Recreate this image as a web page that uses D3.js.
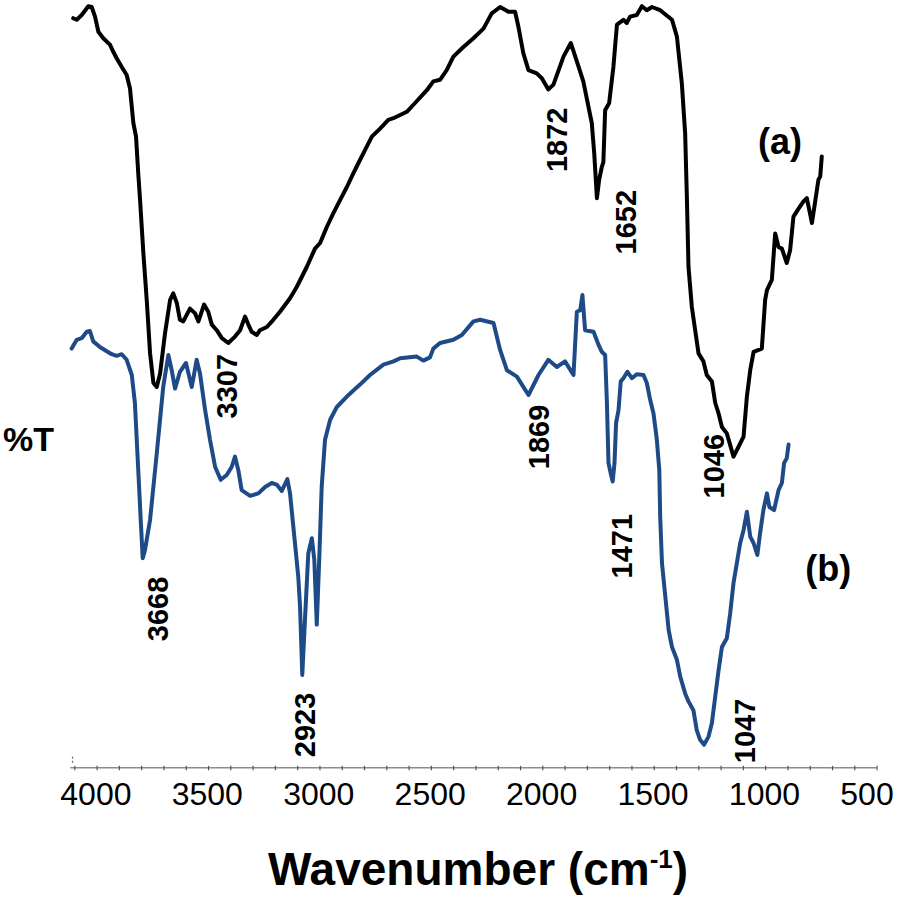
<!DOCTYPE html>
<html>
<head>
<meta charset="utf-8">
<script src="https://cdn.jsdelivr.net/npm/d3@7"></script>
<style>
  html, body { margin: 0; padding: 0; background: #fff; }
  svg { display: block; font-family: "Liberation Sans", Arial, sans-serif; }
</style>
</head>
<body>
<div class="container"></div>
<script>
// wavenumber (cm-1) and %T (arbitrary, offset)
var wavenumberA = [4005,3989,3967,3937,3922,3907,3892,3870,3840,3825,3810,3787,3765,3750,3735,3723,3713,3705,3690,3675,
  3660,3645,3630,3615,3593,3570,3556,3540,3526,3511,3481,3458,3443,3418,3399,3383,3361,3338,3309,3279,
  3256,3234,3219,3204,3181,3167,3136,3107,3077,3032,3002,2957,2920,2897,2867,2838,2807,2777,2748,2725,
  2703,2665,2628,2591,2568,2538,2508,2471,2418,2389,2359,2329,2299,2254,2209,2164,2127,2089,2052,2022,
  2007,1985,1962,1925,1902,1873,1850,1805,1772,1745,1716,1678,1667,1655,1645,1633,1626,1618,1600,1581,
  1565,1536,1521,1506,1476,1453,1431,1408,1371,1318,1296,1274,1259,1251,1244,1229,1214,1199,1177,1162,
  1139,1124,1109,1094,1072,1042,1020,997,982,967,952,915,900,892,870,855,840,825,803,788,
  773,750,728,713,690,668,661,653,646];
var transA = [93.6,93.4,94.0,95.1,95.0,93.8,91.9,91.1,90.3,89.4,88.6,87.5,86.5,84.8,80.5,78.8,74.2,70.9,64.2,58.4,
  51.7,48.0,47.5,49.2,54.2,58.4,59.2,58.0,55.9,55.7,57.3,56.7,55.7,57.8,56.9,55.3,54.6,53.6,53.0,53.8,
  54.6,56.3,55.3,54.4,54.0,54.6,55.0,55.9,56.9,58.6,60.0,62.5,64.8,65.5,67.5,69.2,70.9,72.5,74.2,75.5,
  76.7,78.8,79.8,80.9,81.1,81.5,81.9,83.0,84.6,85.7,85.9,87.1,88.8,90.0,91.1,92.3,94.2,95.0,94.4,94.4,
  92.5,89.2,87.1,86.7,86.1,84.7,85.3,88.8,90.5,88.2,85.7,80.5,76.7,71.1,73.4,75.0,75.6,82.1,83.0,87.5,
  92.8,93.4,93.0,93.8,94.0,95.1,94.6,95.0,94.6,93.4,91.3,85.5,79.2,70.9,62.5,57.5,54.6,51.7,50.7,49.0,
  48.2,45.5,44.2,42.5,41.7,38.8,40.0,41.3,46.3,49.6,51.9,52.3,58.4,59.6,60.9,66.7,65.0,64.8,63.0,64.6,
  68.8,69.8,70.7,71.1,68.0,72.1,73.4,73.8,76.3];

var wavenumberB = [4012,3989,3967,3944,3930,3915,3885,3862,3832,3810,3787,3765,3742,3728,3713,3702,3693,3683,3660,3630,
  3601,3578,3563,3548,3526,3499,3473,3451,3436,3413,3391,3368,3343,3316,3294,3279,3264,3249,3211,3174,
  3144,3114,3092,3069,3044,3032,3017,2995,2987,2977,2965,2950,2934,2923,2912,2900,2890,2875,2852,2822,
  2777,2718,2673,2613,2568,2538,2463,2434,2404,2389,2359,2299,2261,2209,2179,2119,2089,2059,2014,1962,
  1917,1873,1835,1798,1760,1745,1730,1720,1708,1670,1648,1633,1618,1610,1603,1593,1584,1576,1569,1558,
  1548,1536,1518,1498,1476,1446,1431,1416,1401,1386,1375,1371,1363,1348,1333,1318,1296,1281,1259,1244,
  1222,1207,1192,1174,1154,1139,1124,1109,1094,1072,1057,1042,1027,1012,997,982,967,952,935,923,
  908,892,881,860,840,825,815,803,795];
var transB = [52.3,53.4,53.6,54.4,54.5,53.2,52.5,52.1,51.6,51.4,51.6,50.9,49.0,45.5,37.1,30.9,26.1,27.1,30.9,39.2,
  47.5,51.5,49.6,47.3,49.4,50.5,47.5,50.9,49.2,44.6,40.9,37.5,35.9,36.5,37.5,38.8,37.1,34.6,33.9,34.2,
  35.0,35.5,35.3,34.5,36.0,34.2,30.0,23.8,20.0,11.5,18.4,26.7,28.6,25.9,17.8,26.7,35.0,40.9,43.4,45.0,
  46.3,47.8,49.0,50.3,50.7,51.1,51.3,50.8,51.2,52.3,53.0,53.4,54.0,55.7,55.9,55.5,52.1,49.6,48.8,46.5,
  49.0,50.9,50.0,50.7,49.0,56.9,57.1,59.0,54.6,54.4,52.8,51.9,51.5,45.5,38.0,36.7,35.7,38.0,43.0,44.6,
  48.2,48.6,49.4,48.6,49.1,49.0,48.0,45.9,44.2,40.9,37.1,31.3,25.5,21.3,17.1,15.0,13.4,11.3,9.2,8.2,
  7.1,4.6,3.4,2.8,3.8,5.5,8.8,12.1,15.0,16.1,19.2,23.0,25.5,28.0,29.6,31.9,28.8,28.0,26.5,29.2,
  32.1,34.2,32.5,32.1,34.6,35.5,38.0,38.6,40.3];

var majorTicks = [4000, 3500, 3000, 2500, 2000, 1500, 1000, 500];

// peak annotations: label text, wavenumber and %T of the label centre
var peakText = ["3307", "3668", "2923", "1872", "1652", "1869", "1471", "1046", "1047"];
var peakWn   = [3319, 3627, 2969, 1838, 1528, 1919, 1543, 1133, 994];
var peakT    = [47.6, 19.75, 5.25, 78.4, 68.1, 41.25, 27.6, 37.6, 4.5];

var seriesText = ["(a)", "(b)"];
var seriesWn   = [833, 617];
var seriesT    = [78.25, 24.9];

var width = 900, height = 898;

var svg = d3.select('.container')
    .append('svg').attr('width', width).attr('height', height);

var x = d3.scaleLinear().domain([4000, 500]).range([74.3, 854.3]);
var y = d3.scaleLinear().domain([0, 95]).range([767, 7]);

// x axis
var axisY = y(-0.1);
svg.append('line')
    .attr('x1', x(4018)).attr('x2', x(400))
    .attr('y1', axisY).attr('y2', axisY)
    .attr('stroke', '#8c8c8c').attr('stroke-width', 1.6);

var gx = svg.append('g').attr('transform', 'translate(0,' + axisY + ')');
gx.call(d3.axisBottom(x).tickValues(d3.range(4000, 399, -100)).tickSize(0).tickFormat(''));
gx.select('.domain').remove();
gx.selectAll('.tick line').attr('y1', -2).attr('y2', 2.5)
    .attr('stroke', '#555').attr('stroke-width', 1.2);

gx.selectAll('.tick-label').data(majorTicks).enter().append('text')
    .attr('x', function(d) { return x(d) - 14; })
    .attr('y', 37)
    .attr('text-anchor', 'start')
    .style('font-size', '32px')
    .style('fill', '#000')
    .text(function(d) { return d; });

// small stub at the left end
svg.append('line')
    .attr('x1', 72.5).attr('x2', 72.5)
    .attr('y1', axisY - 11).attr('y2', axisY - 3)
    .attr('stroke', '#666').attr('stroke-width', 1.2)
    .attr('stroke-dasharray', '2,2');

var line = d3.line()
    .x(function(d) { return x(d[0]); })
    .y(function(d) { return y(d[1]); });

svg.append('path')
    .datum(d3.zip(wavenumberA, transA))
    .attr('d', line)
    .attr('fill', 'none')
    .attr('stroke', '#000')
    .attr('stroke-width', 4)
    .attr('stroke-linejoin', 'round')
    .attr('stroke-linecap', 'round');

svg.append('path')
    .datum(d3.zip(wavenumberB, transB))
    .attr('d', line)
    .attr('fill', 'none')
    .attr('stroke', '#1e4b87')
    .attr('stroke-width', 4)
    .attr('stroke-linejoin', 'round')
    .attr('stroke-linecap', 'round');

// peak labels, rotated
svg.selectAll('.peak').data(d3.range(peakText.length)).enter().append('text')
    .attr('transform', function(i) {
      return 'translate(' + x(peakWn[i]) + ',' + y(peakT[i]) + ') rotate(-90)';
    })
    .attr('text-anchor', 'middle')
    .attr('dy', '0.36em')
    .style('font-size', '29px')
    .style('font-weight', 'bold')
    .text(function(i) { return peakText[i]; });

svg.selectAll('.series').data(d3.range(seriesText.length)).enter().append('text')
    .attr('x', function(i) { return x(seriesWn[i]); })
    .attr('y', function(i) { return y(seriesT[i]); })
    .attr('text-anchor', 'middle')
    .attr('dy', '0.36em')
    .style('font-size', '36px')
    .style('font-weight', 'bold')
    .text(function(i) { return seriesText[i]; });

// axis titles
svg.append('text')
    .attr('x', 3).attr('y', 451)
    .style('font-size', '34px')
    .style('font-weight', 'bold')
    .text('%T');

var title = svg.append('text')
    .attr('x', 478).attr('y', 885)
    .attr('text-anchor', 'middle')
    .style('font-size', '46px')
    .style('font-weight', 'bold');
title.append('tspan').text('Wavenumber (cm');
title.append('tspan').attr('dy', -17).style('font-size', '26px').text('-1');
title.append('tspan').attr('dy', 17).text(')');
</script>
</body>
</html>
